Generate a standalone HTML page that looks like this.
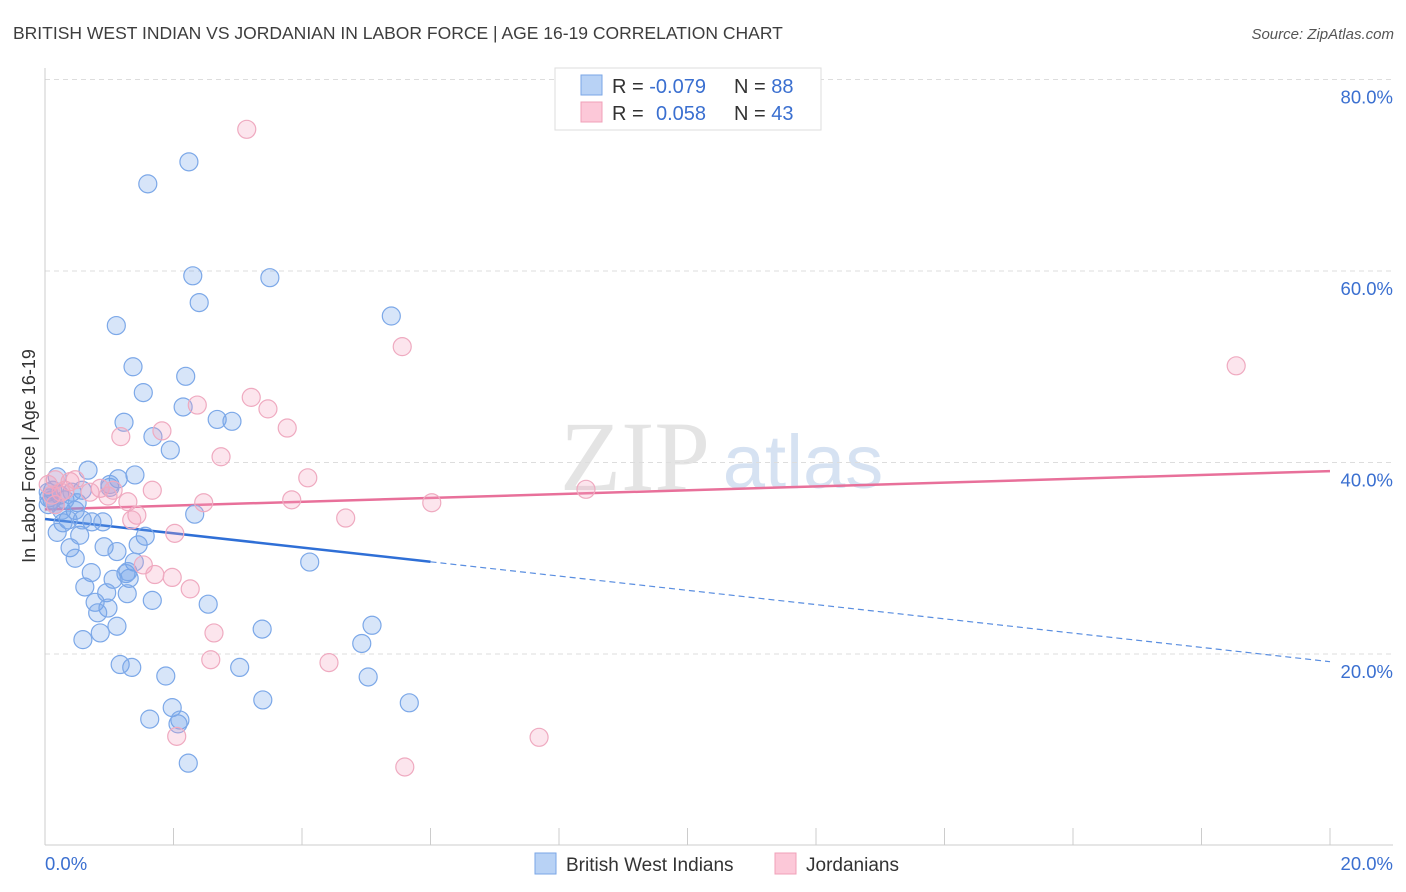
<!DOCTYPE html>
<html><head><meta charset="utf-8">
<style>
body{margin:0;background:#fff;font-family:"Liberation Sans",sans-serif;}
#wrap{position:relative;width:1406px;height:892px;overflow:hidden;}
</style></head>
<body>
<div id="wrap">
<svg id="svg" width="1406" height="892" xmlns="http://www.w3.org/2000/svg">
<text x="13" y="39" font-size="17.5" fill="#3d3d3d">BRITISH WEST INDIAN VS JORDANIAN IN LABOR FORCE | AGE 16-19 CORRELATION CHART</text>
<text x="1394" y="39" font-size="15" fill="#555" font-style="italic" text-anchor="end">Source: ZipAtlas.com</text>
<text x="35" y="456" font-size="18" fill="#333" text-anchor="middle" transform="rotate(-90 35 456)">In Labor Force | Age 16-19</text>
<g><text x="635" y="490" font-size="100" fill="#e4e4e4" font-family="Liberation Serif,serif" text-anchor="middle">ZIP</text><text x="803" y="488" font-size="76" fill="#d6e2f2" text-anchor="middle">atlas</text></g>
<g id="grid"></g>
<g id="axes"></g>
<g id="trend"></g>
<g id="pts"></g>
<g>
<rect x="555" y="68" width="266" height="62" fill="#fff" stroke="#ddd"/>
<rect x="581" y="75" width="21" height="20" fill="#b8d2f5" stroke="#7aa6e6"/>
<rect x="581" y="102" width="21" height="20" fill="#fcc8d8" stroke="#f0a0b8"/>
<text x="612" y="93" font-size="20" fill="#333">R = <tspan fill="#3a6fd0">-0.079</tspan></text>
<text x="734" y="93" font-size="20" fill="#333">N = <tspan fill="#3a6fd0">88</tspan></text>
<text x="612" y="120" font-size="20" fill="#333">R = <tspan fill="#3a6fd0" x="656">0.058</tspan></text>
<text x="734" y="120" font-size="20" fill="#333">N = <tspan fill="#3a6fd0">43</tspan></text>
</g>
<g>
<rect x="535" y="853" width="21" height="21" fill="#b8d2f5" stroke="#7aa6e6"/>
<text x="566" y="871" font-size="19" fill="#333">British West Indians</text>
<rect x="775" y="853" width="21" height="21" fill="#fcc8d8" stroke="#f0a0b8"/>
<text x="806" y="871" font-size="19" fill="#333">Jordanians</text>
</g>
</svg>
</div>
<script>
const yTicks=[20,40,60,80];
const xTickLabels=["0.0%","20.0%"];
const blueX=[1.60,2.24,2.30,3.50,2.40,1.11,5.39,1.37,2.19,1.53,2.15,1.23,2.68,2.91,1.68,1.95,0.67,0.19,1.40,1.14,1.01,0.58,0.12,0.23,0.06,0.50,0.47,0.05,2.33,0.36,0.73,0.90,0.28,1.56,0.19,0.54,1.45,0.92,0.39,1.12,0.47,4.12,1.39,0.72,1.26,1.06,1.31,0.62,0.96,1.28,0.78,1.67,2.54,0.98,0.82,1.12,3.38,5.09,0.86,0.59,4.93,1.17,1.35,3.03,1.88,5.03,3.39,5.67,1.98,1.63,2.10,2.07,2.23,0.05,0.11,0.16,0.31,0.42,0.26,1.01,0.58,1.29];
const blueY=[69.1,71.4,59.5,59.3,56.7,54.3,55.3,50.0,49.0,47.3,45.8,44.2,44.5,44.3,42.7,41.3,39.2,38.5,38.7,38.3,37.4,37.1,37.1,36.6,36.3,35.8,35.0,35.6,34.6,34.0,33.8,33.8,33.7,32.3,32.7,32.4,31.4,31.2,31.1,30.7,30.0,29.6,29.6,28.5,28.4,27.8,27.9,27.0,26.4,26.3,25.4,25.6,25.2,24.8,24.3,22.9,22.6,23.0,22.2,21.5,21.1,18.9,18.6,18.6,17.7,17.6,15.2,14.9,14.4,13.2,13.1,12.7,8.6,36.9,36.1,35.6,36.1,36.9,35.0,37.7,34.0,28.6];
const pinkX=[3.14,5.56,18.54,3.21,2.37,3.47,3.77,1.18,1.82,2.74,4.09,0.16,0.39,0.31,0.86,1.06,1.67,0.25,0.98,1.29,2.47,3.84,6.02,8.42,0.16,1.43,1.35,4.68,2.02,1.53,1.71,1.98,2.26,2.63,2.58,4.42,2.05,7.69,5.60,0.05,0.11,0.47,0.70];
const pinkY=[74.8,52.1,50.1,46.8,46.0,45.6,43.6,42.7,43.3,40.6,38.4,38.2,38.0,37.1,37.3,37.1,37.1,36.9,36.5,35.9,35.8,36.1,35.8,37.2,35.6,34.5,34.0,34.2,32.6,29.3,28.3,28.0,26.8,22.2,19.4,19.1,11.4,11.3,8.2,37.7,36.6,38.2,36.9];
const blueTrend=[34.1,19.2]; // y at x=0 and x=20
const pinkTrend=[35.1,39.1];
const blueSolidEnd=6;

const NS="http://www.w3.org/2000/svg";
const X0=45,X1=1330,Y20=654,PX=9.575;
function sx(v){return X0+(X1-X0)*v/20;}
function sy(v){return Y20-(v-20)*PX;}
function mk(tag,attrs,parent){const e=document.createElementNS(NS,tag);for(const k in attrs)e.setAttribute(k,attrs[k]);document.getElementById(parent).appendChild(e);return e;}

yTicks.forEach(t=>{
  const l=mk('line',{x1:45,x2:1393,y1:sy(t),y2:sy(t),stroke:'#ddd','stroke-dasharray':'5,4'},'grid');
  
  
  const tx=mk('text',{x:1393,y:sy(t)+24,'font-size':18.5,fill:'#3a6fd0','text-anchor':'end'},'grid');
  tx.textContent=t.toFixed(1)+'%';
  
  
});
let a=mk('line',{x1:45,x2:45,y1:68,y2:845,stroke:'#ccc'},'axes');


a=mk('line',{x1:45,x2:1393,y1:845,y2:845,stroke:'#ccc'},'axes');


for(let i=0;i<=10;i++){
  const t=mk('line',{x1:sx(i*2),x2:sx(i*2),y1:828,y2:845,stroke:'#ccc'},'axes');
  
  
}
xTickLabels.forEach((s,i)=>{
  const t=mk('text',{x:i?1393:45,y:870,'font-size':18.5,fill:'#3a6fd0','text-anchor':i?'end':'start'},'axes');
  t.textContent=s;
  
  
});
function trendY(tr,x){return tr[0]+(tr[1]-tr[0])*x/20;}
let tl=mk('line',{x1:sx(0),y1:sy(trendY(pinkTrend,0)),x2:sx(20),y2:sy(trendY(pinkTrend,20)),stroke:'#e8709a','stroke-width':2.5},'trend');


tl=mk('line',{x1:sx(0),y1:sy(trendY(blueTrend,0)),x2:sx(blueSolidEnd),y2:sy(trendY(blueTrend,blueSolidEnd)),stroke:'#2f6fd6','stroke-width':2.5},'trend');


tl=mk('line',{x1:sx(blueSolidEnd),y1:sy(trendY(blueTrend,blueSolidEnd)),x2:sx(20),y2:sy(trendY(blueTrend,20)),stroke:'#5a8ee0','stroke-width':1.2,'stroke-dasharray':'6,4'},'trend');


blueX.forEach((x,i)=>{
  const c=mk('circle',{cx:sx(x),cy:sy(blueY[i]),r:9,fill:'rgba(110,160,235,0.28)',stroke:'#7ca8e8','stroke-width':1.2},'pts');
  
  
});
pinkX.forEach((x,i)=>{
  const c=mk('circle',{cx:sx(x),cy:sy(pinkY[i]),r:9,fill:'rgba(245,160,190,0.28)',stroke:'#efaac0','stroke-width':1.2},'pts');
  
  
});
</script>
</body></html>
